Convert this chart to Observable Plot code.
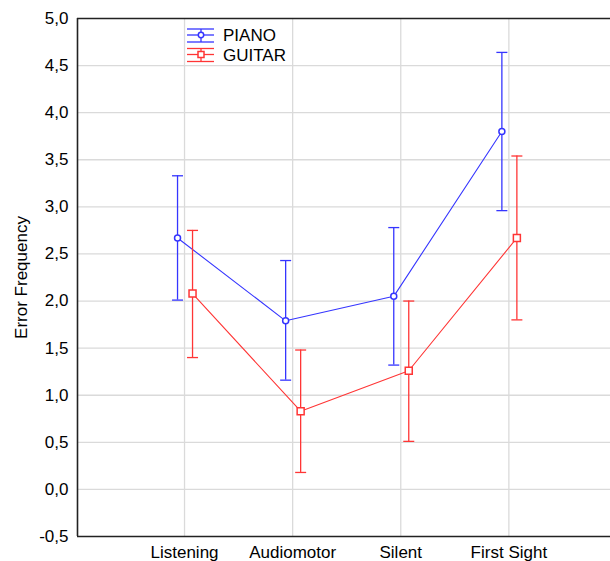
<!DOCTYPE html>
<html>
<head>
<meta charset="utf-8">
<script src="https://cdn.jsdelivr.net/npm/d3@7"></script>
<script src="https://cdn.jsdelivr.net/npm/@observablehq/plot@0.6"></script>
<style>
  html, body { margin: 0; padding: 0; background: #fff; overflow: hidden; }
  #chart svg { display: block; font-family: "Liberation Sans", Arial, sans-serif; }
</style>
</head>
<body>
<div id="chart"></div>
<script>
const categories = ["Listening", "Audiomotor", "Silent", "First Sight"];
const pianoMean = [2.67, 1.79, 2.05, 3.80];
const pianoLow  = [2.01, 1.16, 1.32, 2.96];
const pianoHigh = [3.33, 2.43, 2.78, 4.64];
const guitarMean = [2.08, 0.83, 1.26, 2.67];
const guitarLow  = [1.40, 0.18, 0.51, 1.80];
const guitarHigh = [2.75, 1.48, 2.00, 3.54];
const yTicks = [-0.5, 0, 0.5, 1, 1.5, 2, 2.5, 3, 3.5, 4, 4.5, 5];
const seriesNames = ["PIANO", "GUITAR"];
const seriesColors = ["#3535ff", "#ff3535"];

const xDomain = [-0.99, 3.94];
const yDomain = [-0.5, 5];

const rows = [];
categories.forEach((c, i) => {
  rows.push({series: "PIANO", i, mean: pianoMean[i], low: pianoLow[i], high: pianoHigh[i]});
  rows.push({series: "GUITAR", i, mean: guitarMean[i], low: guitarLow[i], high: guitarHigh[i]});
});
const piano = rows.filter(d => d.series === "PIANO");
const guitar = rows.filter(d => d.series === "GUITAR");

const capSymbol = {draw(ctx) { ctx.moveTo(-5.5, 0); ctx.lineTo(5.5, 0); }};
const squareSymbol = {draw(ctx) { ctx.rect(-3.5, -3.5, 7, 7); }};

function seriesMarks(data, color, dx, symbol, r) {
  return [
    Plot.line(data, {x: "i", y: "mean", stroke: color, strokeWidth: 1.1, dx}),
    Plot.ruleX(data, {x: "i", y1: "low", y2: "high", stroke: color, strokeWidth: 1.3, dx}),
    Plot.dot(data, {x: "i", y: "high", symbol: capSymbol, stroke: color, strokeWidth: 1.3, dx}),
    Plot.dot(data, {x: "i", y: "low", symbol: capSymbol, stroke: color, strokeWidth: 1.3, dx}),
    Plot.dot(data, {x: "i", y: "mean", symbol, r, stroke: color, fill: "white", strokeWidth: 1.5, dx})
  ];
}

const fmt = d => d.toFixed(1).replace(".", ",");

const chart = Plot.plot({
  width: 610,
  height: 561,
  marginLeft: 77,
  marginRight: 0,
  marginTop: 18,
  marginBottom: 25,
  style: {fontFamily: "'Liberation Sans', Arial, sans-serif", fontSize: "17px", color: "#000"},
  x: {type: "linear", domain: xDomain},
  y: {domain: yDomain},
  marks: [
    Plot.ruleY(yTicks.filter(v => v > yDomain[0] && v < yDomain[1]), {stroke: "#dadada", strokeWidth: 1.3}),
    Plot.ruleX(categories.map((c, i) => i), {stroke: "#dadada", strokeWidth: 1.3}),
    Plot.ruleY([yDomain[0]], {stroke: "#222", strokeWidth: 1.6}),
    Plot.ruleY([yDomain[1]], {stroke: "#222", strokeWidth: 1.6}),
    Plot.ruleX([xDomain[0]], {stroke: "#222", strokeWidth: 1.6}),
    Plot.axisY({ticks: yTicks, tickFormat: fmt, tickSize: 0, tickPadding: 9, fontSize: 17,
      label: "Error Frequency", labelAnchor: "center", labelArrow: "none", labelOffset: 63}),
    Plot.axisX({ticks: categories.map((c, i) => i), tickFormat: i => categories[i], tickSize: 0, tickPadding: 9, fontSize: 17, label: null}),
    ...seriesMarks(piano, seriesColors[0], -7, "circle", 3),
    ...seriesMarks(guitar, seriesColors[1], 8, squareSymbol, 3)
  ]
});

// Legend inside the plot (top-left)
const svg = d3.select(chart);
const lg = svg.append("g");
seriesNames.forEach((name, k) => {
  const cy = 35 + k * 19.5;
  const g = lg.append("g").attr("stroke", seriesColors[k]).attr("fill", "none").attr("stroke-width", 1.3);
  g.append("line").attr("x1", 187).attr("x2", 214).attr("y1", cy - 6).attr("y2", cy - 6);
  g.append("line").attr("x1", 187).attr("x2", 214).attr("y1", cy).attr("y2", cy);
  g.append("line").attr("x1", 187).attr("x2", 214).attr("y1", cy + 7).attr("y2", cy + 7);
  g.append("line").attr("x1", 201).attr("x2", 201).attr("y1", cy - 6).attr("y2", cy + 7);
  if (k === 0) g.append("circle").attr("cx", 201).attr("cy", cy).attr("r", 2.7).attr("fill", "white").attr("stroke-width", 1.5);
  else g.append("rect").attr("x", 198).attr("y", cy - 3).attr("width", 6).attr("height", 6).attr("fill", "white").attr("stroke-width", 1.5);
  lg.append("text").attr("x", 223).attr("y", cy).attr("dy", "0.36em")
    .attr("text-anchor", "start")
    .attr("font-size", 17).attr("fill", "#000").text(name);
});

document.getElementById("chart").appendChild(chart);
</script>
</body>
</html>
